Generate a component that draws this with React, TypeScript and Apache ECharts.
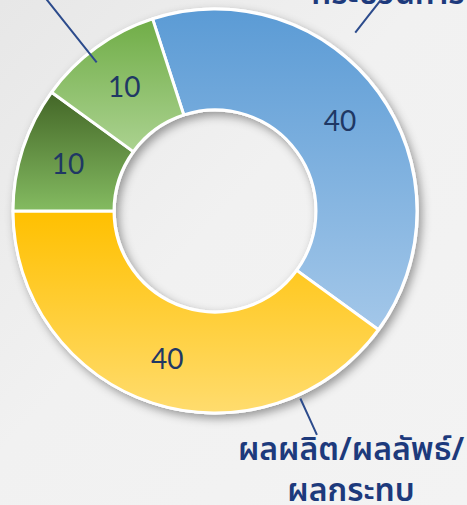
import React, { useEffect, useRef } from 'react';
import * as echarts from 'echarts';

// ---- data ----
const categories = ['กระบวนการ', 'ผลผลิต/ผลลัพธ์/\nผลกระทบ', 'บริบท', 'ปัจจัยนำเข้า'];
const values = [40, 40, 10, 10];

// ---- layout / style ----
const W = 467;
const H = 505;
const CX = 215;
const CY = 211;
const R_IN = 101;
const R_OUT = 202;
const START_ANGLE = 108;

const sliceColors: [string, string][] = [
  ['#5b9bd5', '#a3c7e9'],
  ['#ffc000', '#ffdc6e'],
  ['#436627', '#84bb61'],
  ['#70ad47', '#abd290'],
];

// name label centre + leader line (fraction along slice, radial extent)
const nameLabelLayout = [
  { show: true, x: 388, y: -6, frac: 0.39, r1: 227, r2: 268 },
  { show: true, x: 351, y: 470, frac: 0.205, r1: 206, r2: 246 },
  { show: false, x: 0, y: 0, frac: 0.5, r1: 0, r2: 0 },
  { show: true, x: 30, y: -40, frac: 0.43, r1: 190, r2: 300 },
];

const total = values.reduce((a, b) => a + b, 0);
function sliceStart(i: number) {
  let a = START_ANGLE;
  for (let j = 0; j < i; j++) a -= (values[j] / total) * 360;
  return a;
}

const NAVY = '#1f3864';
const LABEL_NAVY = '#1d3a7c';
const LINE_COLOR = '#2c4b8c';

export default function App() {
  const ref = useRef<HTMLDivElement>(null);
  useEffect(() => {
    document.body.style.margin = '0';
    document.body.style.overflow = 'hidden';
    if (!ref.current) return;
    const chart = echarts.init(ref.current, undefined, { renderer: 'svg' });

    const grad = (c: [string, string]) =>
      new echarts.graphic.LinearGradient(0, 0, 0, 1, [
        { offset: 0, color: c[0] },
        { offset: 1, color: c[1] },
      ]);

    chart.setOption({
      animation: false,
      backgroundColor: new echarts.graphic.LinearGradient(0, 0, 1, 1, [
        { offset: 0, color: '#e7e7e7' },
        { offset: 0.45, color: '#f1f1f1' },
        { offset: 1, color: '#f3f3f3' },
      ]),
      series: [
        {
          // shadow base ring
          type: 'pie',
          silent: true,
          z: 1,
          center: [CX, CY],
          radius: [R_IN - 1.5, R_OUT + 1.5],
          startAngle: START_ANGLE,
          label: { show: false },
          labelLine: { show: false },
          emphasis: { disabled: true },
          itemStyle: {
            color: '#ffffff',
            shadowBlur: 10,
            shadowColor: 'rgba(0,0,0,0.38)',
            shadowOffsetX: 3,
            shadowOffsetY: 4,
          },
          data: [{ value: total, name: 'base' }],
        },
        {
          type: 'pie',
          silent: true,
          z: 2,
          center: [CX, CY],
          radius: [R_IN, R_OUT],
          startAngle: START_ANGLE,
          clockwise: true,
          avoidLabelOverlap: false,
          emphasis: { disabled: true },
          itemStyle: { borderColor: '#ffffff', borderWidth: 3 },
          label: {
            show: true,
            position: 'inside',
            formatter: '{c}',
            color: NAVY,
            fontSize: 28,
            fontFamily: 'Lato, "Open Sans", sans-serif',
          },
          labelLine: { show: false },
          data: values.map((v, i) => ({
            value: v,
            name: categories[i],
            itemStyle: { color: grad(sliceColors[i]) },
          })),
        },
        {
          type: 'pie',
          silent: true,
          z: 3,
          center: [CX, CY],
          radius: [R_IN, R_OUT],
          startAngle: START_ANGLE,
          clockwise: true,
          avoidLabelOverlap: false,
          emphasis: { disabled: true },
          itemStyle: { color: 'rgba(0,0,0,0)' },
          label: {
            show: true,
            position: 'outside',
            formatter: '{b}',
            color: LABEL_NAVY,
            fontSize: 32,
            lineHeight: 41,
            fontWeight: 600,
            fontFamily: '"Noto Sans Thai", "Noto Sans", sans-serif',
            align: 'center',
          },
          labelLine: {
            show: true,
            length: 10,
            length2: 0,
            lineStyle: { color: LINE_COLOR, width: 2 },
          },
          labelLayout: (params: any) => {
            const i = params.dataIndex;
            const L = nameLabelLayout[i];
            if (!L.show) return {};
            const span = (values[i] / total) * 360;
            const th = ((sliceStart(i) - L.frac * span) * Math.PI) / 180;
            const p = (r: number) => [CX + r * Math.cos(th), CY - r * Math.sin(th)];
            return {
              x: L.x,
              y: L.y,
              align: 'center',
              verticalAlign: 'middle',
              labelLinePoints: [p(L.r1), p((L.r1 + L.r2) / 2), p(L.r2)],
            };
          },
          data: values.map((v, i) => ({
            value: v,
            name: categories[i],
            label: { show: nameLabelLayout[i].show },
            labelLine: { show: nameLabelLayout[i].show },
          })),
        },
      ],
    });
    return () => chart.dispose();
  }, []);
  return <div ref={ref} style={{ width: W, height: H }} />;
}
